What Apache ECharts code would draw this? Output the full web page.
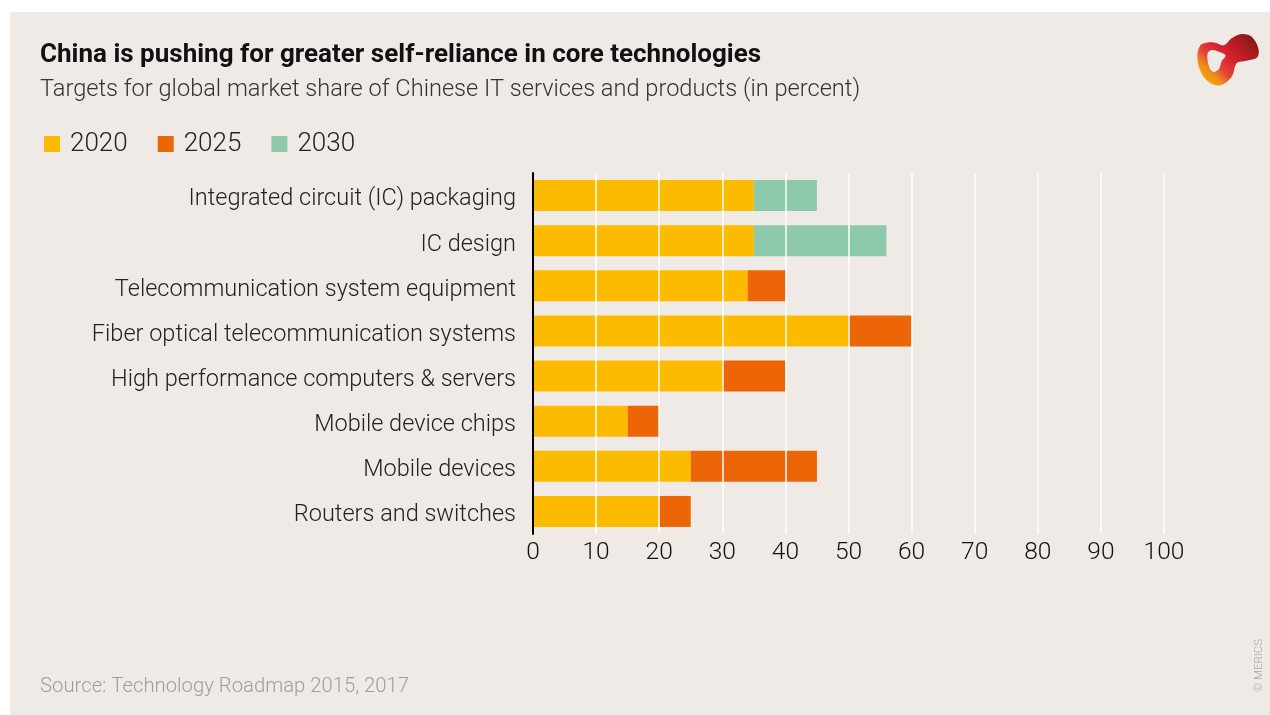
<!DOCTYPE html>
<html>
<head>
<meta charset="utf-8">
<script src="https://cdn.jsdelivr.net/npm/echarts@6/dist/echarts.min.js"></script>
<style>
html,body{margin:0;padding:0;background:#fff;}
#c{width:1270px;height:715px;}
</style>
</head>
<body>
<div id="c"></div>
<script>
const categories = [
  "Integrated circuit (IC) packaging",
  "IC design",
  "Telecommunication system equipment",
  "Fiber optical telecommunication systems",
  "High performance computers & servers",
  "Mobile device chips",
  "Mobile devices",
  "Routers and switches"
];
const seriesNames = ["2020", "2025", "2030"];
const values2020 = [35, 35, 34, 50, 30, 15, 25, 20];
const values2025 = [0, 0, 6, 10, 10, 5, 20, 5];
const values2030 = [10, 21, 0, 0, 0, 0, 0, 0];
const xTicks = { min: 0, max: 100, interval: 10 };

const colors = ["#FDBB00", "#EC6608", "#8DCAAD"];
const FONT = "Roboto, 'Noto Sans', sans-serif";

const chart = echarts.init(document.getElementById('c'), null, {renderer: 'canvas'});

const allValues = [values2020, values2025, values2030];

const logoGradient = {
  type: 'linear', x: 1, y: 0, x2: 0.2, y2: 1,
  colorStops: [
    { offset: 0, color: '#6e1a0c' }, { offset: 0.3, color: '#b01c22' }, { offset: 0.5, color: '#d4202f' },
    { offset: 0.72, color: '#e2443a' }, { offset: 0.85, color: '#f08a1c' }, { offset: 1, color: '#f8a800' }
  ]
};

const option = {
  animation: false,
  color: colors,
  textStyle: { fontFamily: FONT },
  legend: {
    left: 39,
    top: 126,
    icon: 'rect',
    itemWidth: 16,
    itemHeight: 16,
    itemGap: 30,
    textStyle: { fontSize: 26, color: '#222', fontWeight: 300, fontFamily: FONT, padding: [0, 0, 0, 5] },
    data: seriesNames
  },
  grid: { left: 533, right: 106, top: 173, bottom: 181, containLabel: false },
  xAxis: {
    type: 'value',
    min: xTicks.min, max: xTicks.max, interval: xTicks.interval,
    z: 3,
    axisLine: { show: false },
    axisTick: { show: false },
    splitLine: { show: true, lineStyle: { color: '#ffffff', width: 1.5 } },
    axisLabel: { fontSize: 24.5, color: '#111', fontFamily: FONT, fontWeight: 300, margin: 6 }
  },
  yAxis: {
    type: 'category',
    inverse: true,
    data: categories,
    z: 4,
    axisLine: { show: true, lineStyle: { color: '#000', width: 2 } },
    axisTick: { show: false },
    axisLabel: { fontSize: 23.5, color: '#222', fontFamily: FONT, fontWeight: 300, margin: 17, verticalAlign: 'top', lineHeight: 8 }
  },
  series: seriesNames.map((n, i) => ({
    name: n,
    type: 'bar',
    stack: 'total',
    barWidth: 31,
    data: allValues[i],
    itemStyle: { color: colors[i] }
  })),
  graphic: [
    { type: 'rect', shape: { x: 10, y: 12, width: 1260, height: 703 }, style: { fill: '#EFEAE6' }, z: -10, silent: true },
    { type: 'text', x: 40, y: 55, style: { text: 'China is pushing for greater self-reliance in core technologies', font: "bold 26px Roboto", fill: '#111', textVerticalAlign: 'middle' } },
    { type: 'text', x: 40, y: 90, style: { text: 'Targets for global market share of Chinese IT services and products (in percent)', font: "300 23.6px Roboto", fill: '#333', textVerticalAlign: 'middle' } },
    { type: 'text', x: 40, y: 687, style: { text: 'Source: Technology Roadmap 2015, 2017', font: "300 20.3px Roboto", fill: '#a39d98', textVerticalAlign: 'middle' } },
    { type: 'text', x: 1259, y: 692, rotation: Math.PI / 2, style: { text: '© MERICS', font: "300 11.5px Roboto", fill: '#aaa4a0', textVerticalAlign: 'middle' } },
    { type: 'polygon', silent: true,
      shape: { smooth: 0.35, points: [[1197.3,55],[1200.7,45],[1206.7,42.7],[1215,42.7],[1224,45.3],[1231.7,38.3],[1241.7,34],[1251.7,36.7],[1258.3,48.3],[1257.3,57.3],[1246.7,60.7],[1236.7,63.3],[1231.7,76.7],[1220,85.3],[1208.3,81.7],[1200,70]] },
      style: { fill: logoGradient } },
    { type: 'polygon', silent: true,
      shape: { smooth: 0.35, points: [[1207.5,53.5],[1211.8,50],[1218.3,51.5],[1225.5,55.5],[1221.5,61.5],[1219,69],[1213.3,72],[1209,66.5]] },
      style: { fill: '#EFEAE6' } }
  ]
};
chart.setOption(option);
</script>
</body>
</html>
